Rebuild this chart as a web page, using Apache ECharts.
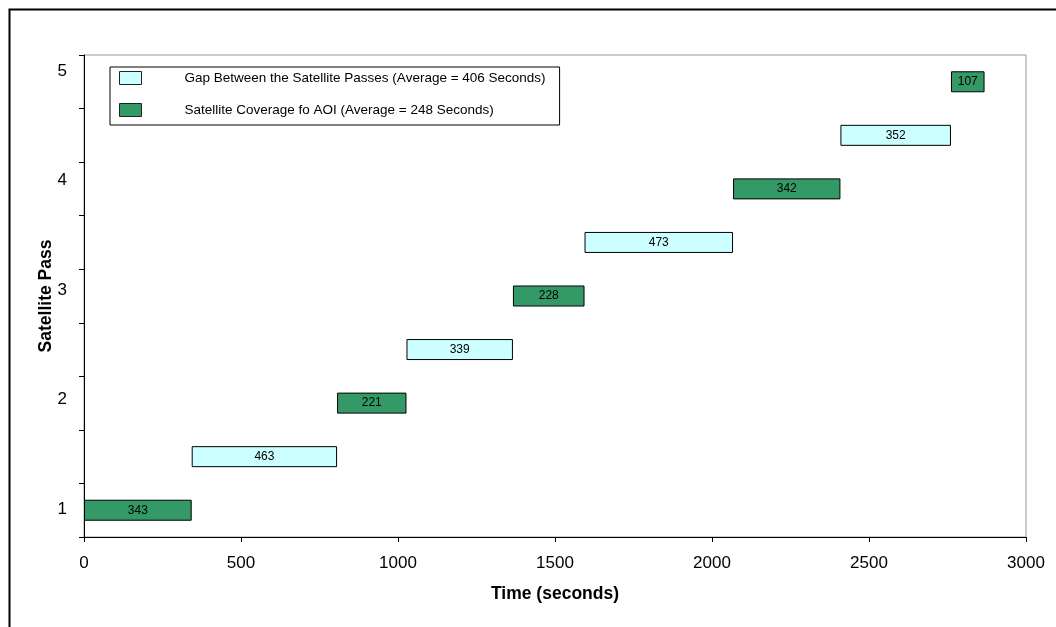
<!DOCTYPE html>
<html>
<head>
<meta charset="utf-8">
<script src="https://cdn.jsdelivr.net/npm/echarts@6/dist/echarts.min.js"></script>
<style>html,body{margin:0;padding:0;background:#fff}#c{width:1056px;height:627px}</style>
</head>
<body>
<div id="c"></div>
<script>
// Data
const rows = ['r1', 'r2', 'r3', 'r4', 'r5', 'r6', 'r7', 'r8', 'r9'];
const durations = [343, 463, 221, 339, 228, 473, 342, 352, 107];
const kinds = ['cov', 'gap', 'cov', 'gap', 'cov', 'gap', 'cov', 'gap', 'cov'];
const passLabels = [1, 2, 3, 4, 5];
const gapName = 'Gap Between the Satellite Passes (Average = 406 Seconds)';
const covName = 'Satellite Coverage fo AOI (Average = 248 Seconds)';
const xTicks = { min: 0, max: 3000, interval: 500 };

const offsets = [];
let acc = 0;
for (const d of durations) { offsets.push(acc); acc += d; }
const gapVals = durations.map((d, i) => kinds[i] === 'gap' ? d : '-');
const covVals = durations.map((d, i) => kinds[i] === 'cov' ? d : '-');

const FONT = '"Liberation Sans", Arial, sans-serif';
const chart = echarts.init(document.getElementById('c'), null, { renderer: 'canvas' });
const label = { show: true, position: 'inside', color: '#000', fontSize: 12, fontFamily: FONT };

chart.setOption({
  animation: false,
  backgroundColor: '#fff',
  textStyle: { fontFamily: FONT, color: '#000' },
  graphic: [{
    type: 'rect', left: 7, top: 7, silent: true,
    shape: { width: 1100, height: 700 },
    style: { fill: 'none', stroke: '#000', lineWidth: 2 }
  }],
  grid: { left: 84, right: 30, top: 55, bottom: 90, show: true, borderColor: '#999', borderWidth: 1, containLabel: false },
  legend: {
    left: 110, top: 67, orient: 'vertical',
    data: [gapName, covName],
    icon: 'rect',
    itemWidth: 22, itemHeight: 13, itemGap: 18,
    padding: [4, 14, 8, 9],
    borderColor: '#000', borderWidth: 1, backgroundColor: '#fff',
    itemStyle: { borderWidth: 1, borderColor: '#222' },
    textStyle: { fontSize: 13.5, fontFamily: FONT, color: '#000', padding: [0, 0, 0, 38] }
  },
  xAxis: {
    type: 'value', min: xTicks.min, max: xTicks.max, interval: xTicks.interval,
    name: 'Time (seconds)', nameLocation: 'middle', nameGap: 48,
    nameTextStyle: { fontSize: 17.5, fontWeight: 'bold', fontFamily: FONT, color: '#000' },
    axisLine: { show: true, lineStyle: { color: '#000', width: 1 } },
    axisTick: { show: true, length: 5, lineStyle: { color: '#000' } },
    axisLabel: { fontSize: 17, color: '#000', fontFamily: FONT, margin: 18, formatter: v => String(v) },
    splitLine: { show: false }
  },
  yAxis: [{
    type: 'category', data: rows,
    name: 'Satellite Pass', nameLocation: 'middle', nameGap: 29, nameRotate: 90,
    nameTextStyle: { fontSize: 17.5, fontWeight: 'bold', fontFamily: FONT, color: '#000' },
    axisLine: { show: true, lineStyle: { color: '#000', width: 1 } },
    axisTick: { show: true, length: 5, alignWithLabel: false, lineStyle: { color: '#000' } },
    axisLabel: { show: false },
    splitLine: { show: false }
  }, {
    type: 'value', position: 'left', min: 0.744, max: 5.146,
    axisLine: { show: false }, axisTick: { show: false }, splitLine: { show: false },
    axisLabel: { customValues: passLabels, fontSize: 17, color: '#000', fontFamily: FONT, margin: 17 }
  }],
  series: [
    { name: 'offset', type: 'bar', stack: 's', data: offsets, barWidth: 21,
      itemStyle: { color: 'transparent' }, silent: true, emphasis: { disabled: true } },
    { name: gapName, type: 'bar', stack: 's', data: gapVals, barWidth: 21,
      itemStyle: { color: '#CCFFFF', borderColor: '#000', borderWidth: 1 }, label },
    { name: covName, type: 'bar', stack: 's', data: covVals, barWidth: 21,
      itemStyle: { color: '#339966', borderColor: '#000', borderWidth: 1 }, label }
  ]
});
</script>
</body>
</html>
